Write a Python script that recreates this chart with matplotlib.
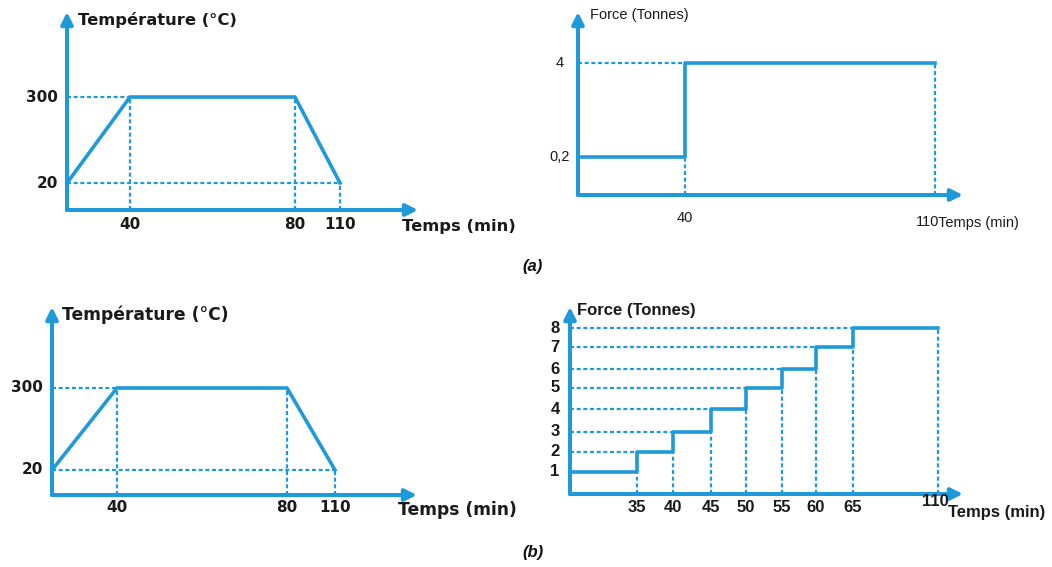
import numpy as np
import matplotlib
matplotlib.use('Agg')
import matplotlib.pyplot as plt
import matplotlib.transforms as mtransforms

# ---------------- data ----------------
temp_time = [0, 40, 80, 110]
temp_vals = [20, 300, 300, 20]
temp_xticks = [40, 80, 110]
temp_yticks = [20, 300]
temp_ylabels = ['20', '300']

force_a_time = [0, 40, 110]
force_a_vals = [0.2, 4, 4]
force_a_xticks = [40, 110]
force_a_yticks = [0.2, 4]
force_a_ylabels = ['0,2', '4']

force_b_time = [0, 35, 40, 45, 50, 55, 60, 65, 110]
force_b_vals = [1, 2, 3, 4, 5, 6, 7, 8, 8]
force_b_xticks = [35, 40, 45, 50, 55, 60, 65, 110]
force_b_yticks = [1, 2, 3, 4, 5, 6, 7, 8]

temp_title = 'Température (°C)'
force_title = 'Force (Tonnes)'
time_label = 'Temps (min)'

# ---------------- style / layout ----------------
W, H = 1052, 567
BLUE = '#1E9ADA'
LW = 2.6
AXLW = 2.9
DOT = dict(color=BLUE, lw=1.6, ls=(0, (1.8, 1.2)), solid_capstyle='butt', clip_on=False)

fig = plt.figure(figsize=(W / 100, H / 100), dpi=100)


def pw_map(a, b):
    a = np.asarray(a, float)
    b = np.asarray(b, float)

    def mk(p, q):
        lo = (q[1] - q[0]) / (p[1] - p[0])
        hi = (q[-1] - q[-2]) / (p[-1] - p[-2])

        def f(x):
            x = np.asarray(x, float)
            y = np.interp(x, p, q)
            y = np.where(x < p[0], q[0] + (x - p[0]) * lo, y)
            y = np.where(x > p[-1], q[-1] + (x - p[-1]) * hi, y)
            return y
        return f
    return mk(a, b), mk(b, a)


def make_axes(box, xvals, xpx, yvals, ypx):
    l, t, r, b = box
    ax = fig.add_axes([l / W, 1 - b / H, (r - l) / W, (b - t) / H])
    fx, ix = pw_map(xvals, xpx)
    fy, iy = pw_map(yvals, [-p for p in ypx])
    ax.set_xscale('function', functions=(fx, ix))
    ax.set_yscale('function', functions=(fy, iy))
    ax.set_xlim(float(ix(l)), float(ix(r)))
    ax.set_ylim(float(iy(-b)), float(iy(-t)))
    ax.axis('off')
    ap = dict(arrowstyle='-|>,head_length=0.5,head_width=0.25', color=BLUE,
              lw=AXLW, shrinkA=0, shrinkB=0, mutation_scale=14)
    ax.annotate('', xy=(1, 0), xytext=(0, 0), xycoords='axes fraction', arrowprops=ap)
    ax.annotate('', xy=(0, 1), xytext=(0, 0), xycoords='axes fraction', arrowprops=ap)
    return ax


def xlab_trans(ax, dx=0):
    tr = mtransforms.blended_transform_factory(ax.transData, fig.transFigure)
    return mtransforms.offset_copy(tr, fig=fig, x=dx, y=0, units='dots')


def ylab_trans(ax):
    return mtransforms.blended_transform_factory(fig.transFigure, ax.transData)


def fx_(px):
    return px / W


def fy_(px):
    return 1 - px / H


# ---------------- temperature panels ----------------
def temp_panel(box, xpx, ypx, title_xy, ylab_right, xlab_y, tlabel_xy, tsize):
    ax = make_axes(box, temp_time, xpx, temp_yticks, ypx)
    ax.plot(temp_time, temp_vals, color=BLUE, lw=LW, solid_joinstyle='miter', clip_on=False, zorder=3)
    y0 = ax.get_ylim()[0]
    ax.plot([0, temp_time[1]], [temp_vals[1], temp_vals[1]], **DOT)
    ax.plot([0, temp_time[-1]], [temp_vals[-1], temp_vals[-1]], **DOT)
    for xt, yv in zip(temp_time[1:], temp_vals[1:]):
        ax.plot([xt, xt], [y0, yv], **DOT)
    font = dict(family='DejaVu Sans', fontweight='bold', fontsize=11, color='#1a1a1a')
    tfont = dict(font, fontsize=tsize)
    for xt in temp_xticks:
        ax.text(xt, fy_(xlab_y), str(xt), transform=xlab_trans(ax), ha='center', va='center', **font)
    for yt, lab in zip(temp_yticks, temp_ylabels):
        ax.text(fx_(ylab_right), yt, lab, transform=ylab_trans(ax), ha='right', va='center', **font)
    fig.text(fx_(title_xy[0]), fy_(title_xy[1]), temp_title, ha='left', va='center', **tfont)
    fig.text(fx_(tlabel_xy[0]), fy_(tlabel_xy[1]), time_label, ha='left', va='center', **tfont)


temp_panel((67, 12, 418, 210), [67, 130, 295, 340], [183, 97], (78, 20), 58, 225, (402, 227), 11.8)
temp_panel((52, 307, 417, 495), [52, 117, 287, 335], [470, 388], (62, 315), 43, 508, (398, 510), 12.3)

# ---------------- force panel (a) ----------------
axb = make_axes((578, 12, 963, 195), force_a_time, [578, 685, 935], force_a_yticks, [157, 63])
axb.plot(force_a_time, force_a_vals, drawstyle='steps-post', color=BLUE, lw=LW, clip_on=False, zorder=3)
y0 = axb.get_ylim()[0]
for i in range(1, len(force_a_time) - 1):
    axb.plot([0, force_a_time[i]], [force_a_vals[i], force_a_vals[i]], **DOT)
for i in range(1, len(force_a_time)):
    axb.plot([force_a_time[i], force_a_time[i]], [y0, force_a_vals[i - 1]], **DOT)
fa = dict(family='Liberation Sans', fontsize=10.5, color='#1a1a1a')
axb.text(force_a_xticks[0], fy_(218), str(force_a_xticks[0]), transform=xlab_trans(axb), ha='center', va='center', **fa)
axb.text(force_a_xticks[-1], fy_(222), str(force_a_xticks[-1]), transform=xlab_trans(axb, -7), ha='center', va='center', **fa)
for yt, lab in zip(force_a_yticks, force_a_ylabels):
    axb.text(fx_(560), yt, lab, transform=ylab_trans(axb), ha='center', va='center', **fa)
fig.text(fx_(590), fy_(15), force_title, ha='left', va='center', **fa)
fig.text(fx_(938), fy_(223), time_label, ha='left', va='center', **fa)

# ---------------- force panel (b) ----------------
axd = make_axes((570, 307, 963, 494), force_b_time,
                [570, 637, 673, 711, 746, 782, 816, 853, 938],
                force_b_yticks, [472, 452, 432, 409, 388, 369, 347, 328])
axd.plot(force_b_time, force_b_vals, drawstyle='steps-post', color=BLUE, lw=LW, clip_on=False, zorder=3)
y0 = axd.get_ylim()[0]
for i in range(1, len(force_b_time) - 1):
    axd.plot([0, force_b_time[i]], [force_b_vals[i], force_b_vals[i]], **DOT)
for i in range(1, len(force_b_time)):
    axd.plot([force_b_time[i], force_b_time[i]], [y0, force_b_vals[i - 1]], **DOT)
fb = dict(family='Liberation Sans', fontweight='bold', fontsize=12, color='#1a1a1a')
for xt in force_b_xticks[:-1]:
    axd.text(xt, fy_(507), str(xt), transform=xlab_trans(axd), ha='center', va='center', **fb)
axd.text(force_b_xticks[-1], fy_(502), str(force_b_xticks[-1]), transform=xlab_trans(axd, -3), ha='center', va='center', **fb)
for yt in force_b_yticks:
    axd.text(fx_(555), yt, str(yt), transform=ylab_trans(axd), ha='center', va='center', **fb)
fig.text(fx_(577), fy_(311), force_title, ha='left', va='center', **fb)
fig.text(fx_(948), fy_(512), time_label, ha='left', va='center', **fb)

# ---------------- captions ----------------
cap = dict(family='Liberation Sans', fontweight='bold', fontstyle='italic', fontsize=12, color='#111111')
fig.text(fx_(533), fy_(267), '(a)', ha='center', va='center', **cap)
fig.text(fx_(533), fy_(552), '(b)', ha='center', va='center', **cap)

fig.savefig('out.png', dpi=100)
